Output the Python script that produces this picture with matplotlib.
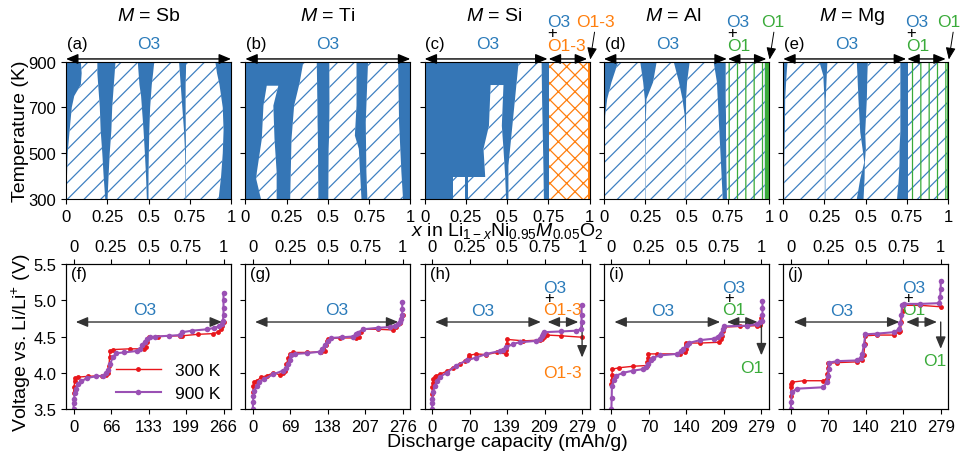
import matplotlib
matplotlib.use('Agg')
import matplotlib.pyplot as plt

plt.rcParams['font.family'] = ['Liberation Sans', 'DejaVu Sans']
plt.rcParams['mathtext.fontset'] = 'custom'
plt.rcParams['mathtext.rm'] = 'Liberation Sans'
plt.rcParams['mathtext.it'] = 'Liberation Sans:italic'
plt.rcParams['hatch.linewidth'] = 0.9

# ---- data: top row, single-phase (hatched) regions as (T, left x, right x) ----
ELEMENTS = ['Sb', 'Ti', 'Si', 'Al', 'Mg']
SB_T = [300, 400, 500, 600, 700, 750, 800, 850, 900]
SB_R1 = [0.004, 0.006, 0.01, 0.022, 0.035, 0.05, 0.09, 0.095, 0.09]
SB_R2L = [0.238, 0.228, 0.22, 0.21, 0.205, 0.2, 0.195, 0.19, 0.19]
SB_R2R = [0.252, 0.258, 0.265, 0.275, 0.28, 0.285, 0.29, 0.295, 0.30]
SB_R3L = [0.49, 0.485, 0.478, 0.47, 0.46, 0.455, 0.445, 0.44, 0.435]
SB_R3R = [0.5, 0.5, 0.502, 0.505, 0.51, 0.515, 0.52, 0.528, 0.535]
SB_R4L = [0.724, 0.724, 0.722, 0.715, 0.705, 0.70, 0.695, 0.69, 0.685]
SB_R4R = [0.728, 0.727, 0.727, 0.726, 0.725, 0.725, 0.725, 0.727, 0.728]
SB_R5L = [0.925, 0.94, 0.95, 0.955, 0.95, 0.94, 0.93, 0.915, 0.905]
SB_REGIONS = [(SB_T, SB_R1, SB_R2L), (SB_T, SB_R2R, SB_R3L),
              (SB_T, SB_R3R, SB_R4L), (SB_T, SB_R4R, SB_R5L)]

TI_REGIONS = [
    ([300, 388, 417, 562, 708, 795], [0.095, 0.066, 0.07, 0.10, 0.11, 0.13], [0.19, 0.19, 0.19, 0.177, 0.17, 0.20]),
    ([300, 562, 635, 708, 810, 900], [0.272, 0.28, 0.288, 0.296, 0.33, 0.352], [0.443, 0.44, 0.438, 0.437, 0.435, 0.433]),
    ([300, 519, 577, 708, 900], [0.503, 0.505, 0.508, 0.51, 0.509], [0.704, 0.688, 0.664, 0.674, 0.674]),
    ([300, 417, 635, 900], [0.74, 0.734, 0.73, 0.744], [0.956, 0.946, 0.932, 0.926]),
]

SI_REGIONS = [
    ([300, 395], [0.17, 0.17], [0.245, 0.245]),
    ([300, 395], [0.26, 0.26], [0.37, 0.37]),
    ([300, 402, 519, 620, 798], [0.37, 0.367, 0.357, 0.39, 0.40], [0.494, 0.488, 0.478, 0.468, 0.478]),
    ([300, 446, 591, 737, 900], [0.508, 0.508, 0.528, 0.548, 0.57], [0.723, 0.72, 0.716, 0.712, 0.709]),
]

AL_T = [300, 450, 591, 664, 737, 810, 900]
AL_R1 = [0.006, 0.006, 0.006, 0.008, 0.02, 0.046, 0.087]
AL_R2L = [0.251, 0.251, 0.25, 0.25, 0.248, 0.238, 0.22]
AL_R2R = [0.253, 0.253, 0.254, 0.255, 0.258, 0.298, 0.32]
AL_R3L = [0.495, 0.495, 0.494, 0.49, 0.476, 0.455, 0.423]
AL_R3R = [0.498, 0.498, 0.498, 0.498, 0.498, 0.504, 0.52]
AL_R4L = [0.72, 0.71, 0.70, 0.695, 0.69, 0.685, 0.665]
AL_R4R = [0.746, 0.742, 0.74, 0.74, 0.738, 0.738, 0.738]
AL_O1 = [0.975] * 7
AL_REGIONS = [(AL_T, AL_R1, AL_R2L), (AL_T, AL_R2R, AL_R3L),
              (AL_T, AL_R3R, AL_R4L), (AL_T, AL_R4R, AL_O1)]

MG_T = [300, 388, 460, 519, 591, 737, 839, 900]
MG_R1 = [0.006, 0.006, 0.006, 0.008, 0.01, 0.012, 0.02, 0.026]
MG_R2L = [0.252, 0.252, 0.252, 0.252, 0.251, 0.25, 0.243, 0.219]
MG_R2R = [0.256, 0.256, 0.256, 0.256, 0.257, 0.258, 0.264, 0.268]
MG_R3L = [0.446, 0.467, 0.491, 0.481, 0.467, 0.456, 0.45, 0.446]
MG_R3R = [0.487, 0.493, 0.495, 0.501, 0.497, 0.507, 0.51, 0.513]
MG_R4L = [0.69, 0.70, 0.705, 0.705, 0.71, 0.71, 0.71, 0.71]
MG_R4R = [0.755] * 8
MG_O1 = [0.995] * 8
MG_REGIONS = [(MG_T, MG_R1, MG_R2L), (MG_T, MG_R2R, MG_R3L),
              (MG_T, MG_R3R, MG_R4L), (MG_T, MG_R4R, MG_O1)]

PHASE_REGIONS = [SB_REGIONS, TI_REGIONS, SI_REGIONS, AL_REGIONS, MG_REGIONS]

# ---- data: bottom row, (capacity mAh/g, voltage V) ----
CAP_MAX = [266, 276, 279, 279, 279]
CAP_TICKS = [['0', '66', '133', '199', '266'], ['0', '69', '138', '207', '276'],
             ['0', '70', '139', '209', '279'], ['0', '70', '140', '209', '279'],
             ['0', '70', '140', '210', '279']]

SB_300 = [(0, 3.72), (1, 3.80), (2, 3.88), (3, 3.93), (8, 3.94), (25, 3.95), (50, 3.96), (58, 3.97),
          (62, 4.00), (63, 4.10), (64, 4.22), (65, 4.30), (70, 4.32), (100, 4.33), (125, 4.33),
          (128, 4.36), (130, 4.42), (131, 4.47), (133, 4.49), (150, 4.50), (188, 4.51), (193, 4.51),
          (220, 4.53), (248, 4.54), (256, 4.56), (261, 4.60), (264, 4.65), (266, 4.70)]
SB_900 = [(0, 3.50), (0.5, 3.58), (1, 3.64), (2, 3.72), (4, 3.78), (8, 3.84), (14, 3.88), (24, 3.93),
          (40, 3.95), (52, 3.96), (58, 3.99), (62, 4.04), (65, 4.12), (70, 4.22), (76, 4.27), (90, 4.28),
          (112, 4.30), (118, 4.33), (122, 4.38), (126, 4.43), (130, 4.46), (136, 4.49), (145, 4.50),
          (170, 4.51), (188, 4.52), (193, 4.56), (210, 4.58), (237, 4.60), (250, 4.62), (258, 4.64),
          (263, 4.67), (265, 4.72), (266, 4.80), (266, 4.90), (266, 5.00), (266, 5.10)]

TI_300 = [(0, 3.73), (1, 3.82), (2.4, 3.87), (7, 3.89), (16, 3.94), (26, 3.96), (38, 4.0), (50, 3.97),
          (56, 3.99), (59, 4.03), (62, 4.12), (65, 4.2), (68, 4.26), (74, 4.28), (100, 4.28), (125, 4.29),
          (132, 4.3), (135, 4.38), (137, 4.44), (139, 4.47), (160, 4.48), (190, 4.48), (195, 4.5),
          (200, 4.56), (203, 4.6), (230, 4.6), (258, 4.59), (264, 4.63), (270, 4.68), (273, 4.74), (276, 4.79)]
TI_900 = [(0, 3.5), (0.5, 3.6), (1, 3.68), (3, 3.75), (7, 3.82), (12, 3.87), (20, 3.91), (38, 3.98),
          (56, 4.03), (62, 4.07), (65, 4.12), (68, 4.18), (71, 4.24), (78, 4.26), (99, 4.27), (123, 4.29),
          (128, 4.33), (132, 4.38), (138, 4.44), (144, 4.48), (165, 4.49), (184, 4.5), (190, 4.53),
          (193, 4.55), (203, 4.6), (230, 4.62), (252, 4.63), (262, 4.65), (267, 4.67), (271, 4.7),
          (273, 4.74), (275, 4.8), (275, 4.88), (275, 4.97)]

SI_300 = [(0, 3.71), (0.5, 3.8), (1, 3.86), (2, 3.91), (5, 3.94), (8, 3.96), (14, 3.98), (27, 4.02),
          (39, 4.07), (51, 4.12), (62, 4.16), (67, 4.19), (68, 4.22), (69, 4.24), (82, 4.26), (101, 4.25),
          (120, 4.28), (137, 4.26), (138, 4.32), (139, 4.4), (139.5, 4.46), (170, 4.44), (200, 4.45),
          (205, 4.47), (209, 4.5), (213, 4.52), (240, 4.51), (279, 4.49)]
SI_900 = [(0, 3.5), (0.3, 3.58), (0.6, 3.64), (2, 3.74), (5, 3.82), (9, 3.89), (14, 3.94), (27, 4.0),
          (45, 4.1), (64, 4.17), (82, 4.21), (101, 4.26), (126, 4.3), (132, 4.32), (138, 4.35),
          (151, 4.4), (163, 4.42), (194, 4.44), (200, 4.47), (204, 4.51), (207, 4.54), (209, 4.56),
          (240, 4.57), (268, 4.58), (277, 4.6), (278, 4.7), (278, 4.8), (278, 4.93)]

AL_300 = [(0, 3.84), (0.5, 3.9), (1, 3.97), (2, 4.05), (15, 4.07), (41, 4.09), (66, 4.1), (67, 4.15),
          (68, 4.2), (69, 4.26), (84, 4.26), (128, 4.26), (137, 4.28), (138, 4.33), (139, 4.38),
          (139.5, 4.41), (165, 4.41), (200, 4.42), (204, 4.46), (206, 4.51), (208, 4.57), (209, 4.63),
          (240, 4.64), (271, 4.65), (276, 4.66), (278, 4.7), (279, 4.76)]
AL_900 = [(0, 3.5), (0.5, 3.65), (1, 3.82), (4, 3.9), (9, 3.96), (22, 4.0), (41, 4.03), (59, 4.05),
          (65, 4.08), (69, 4.12), (74, 4.17), (78, 4.21), (91, 4.24), (122, 4.26), (130, 4.3),
          (134, 4.33), (140, 4.38), (144, 4.41), (165, 4.45), (190, 4.47), (198, 4.5), (203, 4.54),
          (207, 4.6), (209, 4.64), (253, 4.65), (271, 4.67), (277, 4.7), (280, 4.72), (281, 4.8),
          (281, 4.9), (281, 4.99)]

MG_300 = [(0, 3.68), (0.5, 3.8), (1, 3.84), (2, 3.87), (24, 3.89), (61, 3.89), (67, 3.91), (68, 3.98),
          (69, 4.06), (70, 4.13), (86, 4.14), (123, 4.15), (133, 4.17), (136, 4.25), (138, 4.4),
          (139, 4.51), (161, 4.52), (192, 4.52), (201, 4.56), (204, 4.58), (206, 4.7), (208, 4.85),
          (209, 4.93), (241, 4.93), (279, 4.91)]
MG_900 = [(0, 3.5), (1, 3.6), (2, 3.73), (11, 3.78), (61, 3.8), (67, 3.87), (69, 3.95), (71, 4.05),
          (72, 4.14), (86, 4.16), (123, 4.17), (130, 4.21), (133, 4.26), (136, 4.38), (139, 4.53),
          (161, 4.54), (192, 4.56), (201, 4.6), (204, 4.68), (206, 4.8), (207, 4.93), (210, 4.95),
          (241, 4.95), (276, 4.96), (278, 5.05), (279, 5.15), (279, 5.27)]

CURVES_300 = [SB_300, TI_300, SI_300, AL_300, MG_300]
CURVES_900 = [SB_900, TI_900, SI_900, AL_900, MG_900]

BLUE = '#3576b6'
HATCH = '#3f80c2'
TXT_BLUE = '#2b7bba'
ORANGE = '#ff7f0e'
GREEN = '#3aab3a'
RED = '#e8161b'
PURPLE = '#9a50b4'
SECOND = [None, None, ('O1-3', ORANGE), ('O1', GREEN), ('O1', GREEN)]
LETTERS_TOP = ['(a)', '(b)', '(c)', '(d)', '(e)']
LETTERS_BOT = ['(f)', '(g)', '(h)', '(i)', '(j)']
FRAC_TICKS = [0, 0.25, 0.5, 0.75, 1]
FRAC_LABELS = ['0', '0.25', '0.5', '0.75', '1']

fig = plt.figure(figsize=(9.61, 4.52), dpi=100)
W = 165 / 961
arrow2 = dict(arrowstyle='<|-|>,head_length=0.6,head_width=0.25', color='k', lw=1,
              shrinkA=0, shrinkB=0, mutation_scale=12)

for i in range(5):
    left = (66 + 179.3 * i) / 961
    # ---------- top row: phase diagram ----------
    ax = fig.add_axes([left, 0.5575, W, 0.3038])
    ax.set_facecolor(BLUE)
    for T, lo, hi in PHASE_REGIONS[i]:
        ax.fill_betweenx(T, lo, hi, facecolor='white', edgecolor=HATCH, hatch='//', linewidth=0)
    if i == 2:
        ax.fill_betweenx([300, 900], 0.752, 0.99, facecolor='white', edgecolor=ORANGE, hatch='xx', linewidth=0)
        ax.axvspan(0.99, 1.0, color=ORANGE, lw=0)
    if i == 3:
        ax.fill_betweenx([300, 900], 0.745, 0.975, facecolor='none', edgecolor=GREEN, hatch='||', linewidth=0)
        ax.axvspan(0.975, 1.0, color=GREEN, lw=0)
    if i == 4:
        ax.fill_betweenx([300, 900], 0.755, 0.995, facecolor='none', edgecolor=GREEN, hatch='||', linewidth=0)
        ax.axvspan(0.995, 1.0, color=GREEN, lw=0)
    ax.set_xlim(0, 1)
    ax.set_ylim(300, 900)
    ax.set_xticks(FRAC_TICKS)
    ax.set_xticklabels(FRAC_LABELS, fontsize=12)
    ax.set_yticks([300, 500, 700, 900])
    if i == 0:
        ax.set_yticklabels(['300', '500', '700', '900'], fontsize=12)
    else:
        ax.set_yticklabels([])
    tx = 0.5 if i < 2 else 0.42
    ax.text(tx, 1.333, f'$M$ = {ELEMENTS[i]}', transform=ax.transAxes, ha='center', va='center', fontsize=14)
    ax.text(0.005, 1.13, LETTERS_TOP[i], transform=ax.transAxes, ha='left', va='center', fontsize=12)
    if SECOND[i] is None:
        ax.text(0.5, 1.13, 'O3', color=TXT_BLUE, transform=ax.transAxes, ha='center', va='center', fontsize=12.5)
        ax.annotate('', xy=(1, 912), xytext=(0, 912), arrowprops=arrow2, annotation_clip=False)
    else:
        name, col = SECOND[i]
        ax.text(0.385, 1.13, 'O3', color=TXT_BLUE, transform=ax.transAxes, ha='center', va='center', fontsize=12.5)
        ax.annotate('', xy=(0.745, 912), xytext=(0, 912), arrowprops=arrow2, annotation_clip=False)
        ax.annotate('', xy=(0.985, 912), xytext=(0.752, 912), arrowprops=arrow2, annotation_clip=False)
        ax.text(0.74, 1.29, 'O3', color=TXT_BLUE, transform=ax.transAxes, ha='left', va='center', fontsize=12.5)
        ax.text(0.745, 1.21, '+', color='k', transform=ax.transAxes, ha='left', va='center', fontsize=12)
        ax.text(0.745, 1.115, name, color=col, transform=ax.transAxes, ha='left', va='center', fontsize=12.5)
        tx2 = [None, None, 0.92, 0.955, 0.935][i]
        ax.text(tx2, 1.29, name, color=col, transform=ax.transAxes, ha='left', va='center', fontsize=12.5)
        ax.annotate('', xy=(1.004, 1.016), xycoords='axes fraction', xytext=(1.03, 1.215),
                    textcoords='axes fraction', annotation_clip=False,
                    arrowprops=dict(arrowstyle='-|>,head_length=0.6,head_width=0.25', color='k', lw=0.7,
                                    shrinkA=0, shrinkB=0, mutation_scale=12))

    # ---------- bottom row: voltage profiles ----------
    L = CAP_MAX[i]
    bx = fig.add_axes([left, 0.0929, W, 0.3208])
    c3 = [p[0] for p in CURVES_300[i]]
    v3 = [p[1] for p in CURVES_300[i]]
    c9 = [p[0] for p in CURVES_900[i]]
    v9 = [p[1] for p in CURVES_900[i]]
    bx.plot(c3, v3, color=RED, lw=1, marker='o', ms=3.5, mew=0, label='300 K', zorder=3)
    bx.plot(c9, v9, color=PURPLE, lw=1.5, marker='o', ms=4, mew=0, label='900 K', zorder=4)
    bx.set_xlim(-0.05 * L, 1.05 * L)
    bx.set_ylim(3.5, 5.5)
    bx.set_xticks([f * L for f in FRAC_TICKS])
    bx.set_xticklabels(CAP_TICKS[i], fontsize=12)
    bx.set_yticks([3.5, 4.0, 4.5, 5.0, 5.5])
    if i == 0:
        bx.set_yticklabels(['3.5', '4.0', '4.5', '5.0', '5.5'], fontsize=12)
    else:
        bx.set_yticklabels([])
    tw = bx.twiny()
    tw.set_xlim(-0.05, 1.05)
    tw.set_xticks(FRAC_TICKS)
    tw.set_xticklabels(FRAC_LABELS, fontsize=12)
    bx.text(0.03, 0.985, LETTERS_BOT[i], transform=bx.transAxes, ha='left', va='top', fontsize=12)
    arr = dict(arrowstyle='<|-|>,head_length=0.6,head_width=0.25', color='#333333', lw=1,
               shrinkA=0, shrinkB=0, mutation_scale=12)
    if SECOND[i] is None:
        ox = 0.475 if i == 0 else 0.56
        bx.text(ox * L, 4.87, 'O3', color=TXT_BLUE, ha='center', va='center', fontsize=12.5)
        right = 0.99 if i == 0 else 0.97
        bx.annotate('', xy=(right * L, 4.7), xytext=(0.015 * L, 4.7), arrowprops=arr)
    else:
        name, col = SECOND[i]
        bx.text(0.34 * L, 4.86, 'O3', color=TXT_BLUE, ha='center', va='center', fontsize=12.5)
        bx.annotate('', xy=(0.725 * L, 4.7), xytext=(0.02 * L, 4.7), arrowprops=arr)
        bx.annotate('', xy=(0.975 * L, 4.7), xytext=(0.77 * L, 4.7), arrowprops=arr)
        tip = [None, None, 4.21, 4.24, 4.33][i]
        bx.annotate('', xy=(L, tip), xytext=(L, 4.7),
                    arrowprops=dict(arrowstyle='-|>,head_length=0.6,head_width=0.25', color='#333333', lw=1,
                                    shrinkA=0, shrinkB=0, mutation_scale=12))
        sx = 0.74 * L
        bx.text(sx, 5.18, 'O3', color=TXT_BLUE, ha='left', va='center', fontsize=12.5)
        bx.text(sx + 0.01 * L, 5.04, '+', color='k', ha='left', va='center', fontsize=12)
        bx.text(sx, 4.87, name, color=col, ha='left', va='center', fontsize=12.5)
        lx = [None, None, 0.74, 0.86, 0.88][i]
        ly = [None, None, 4.0, 4.07, 4.17][i]
        bx.text(lx * L, ly, name, color=col, ha='left', va='center', fontsize=12.5)
    if i == 0:
        bx.legend(loc='lower right', frameon=False, fontsize=12.5, handlelength=2.6,
                  bbox_to_anchor=(1.03, -0.05), handletextpad=0.8, labelspacing=0.45)

fig.text(21 / 961, (452 - 131) / 452, 'Temperature (K)', rotation=90, ha='center', va='center', fontsize=14)
fig.text(21 / 961, (452 - 343) / 452, 'Voltage vs. Li/Li$^{+}$ (V)', rotation=90, ha='center', va='center', fontsize=14)
fig.text(507 / 961, (452 - 231) / 452, '$x$ in Li$_{1-x}$Ni$_{0.95}$$M_{0.05}$O$_2$', ha='center', va='center', fontsize=14)
fig.text(507 / 961, (452 - 443) / 452, 'Discharge capacity (mAh/g)', ha='center', va='center', fontsize=14)

fig.savefig('out.png', dpi=100)
